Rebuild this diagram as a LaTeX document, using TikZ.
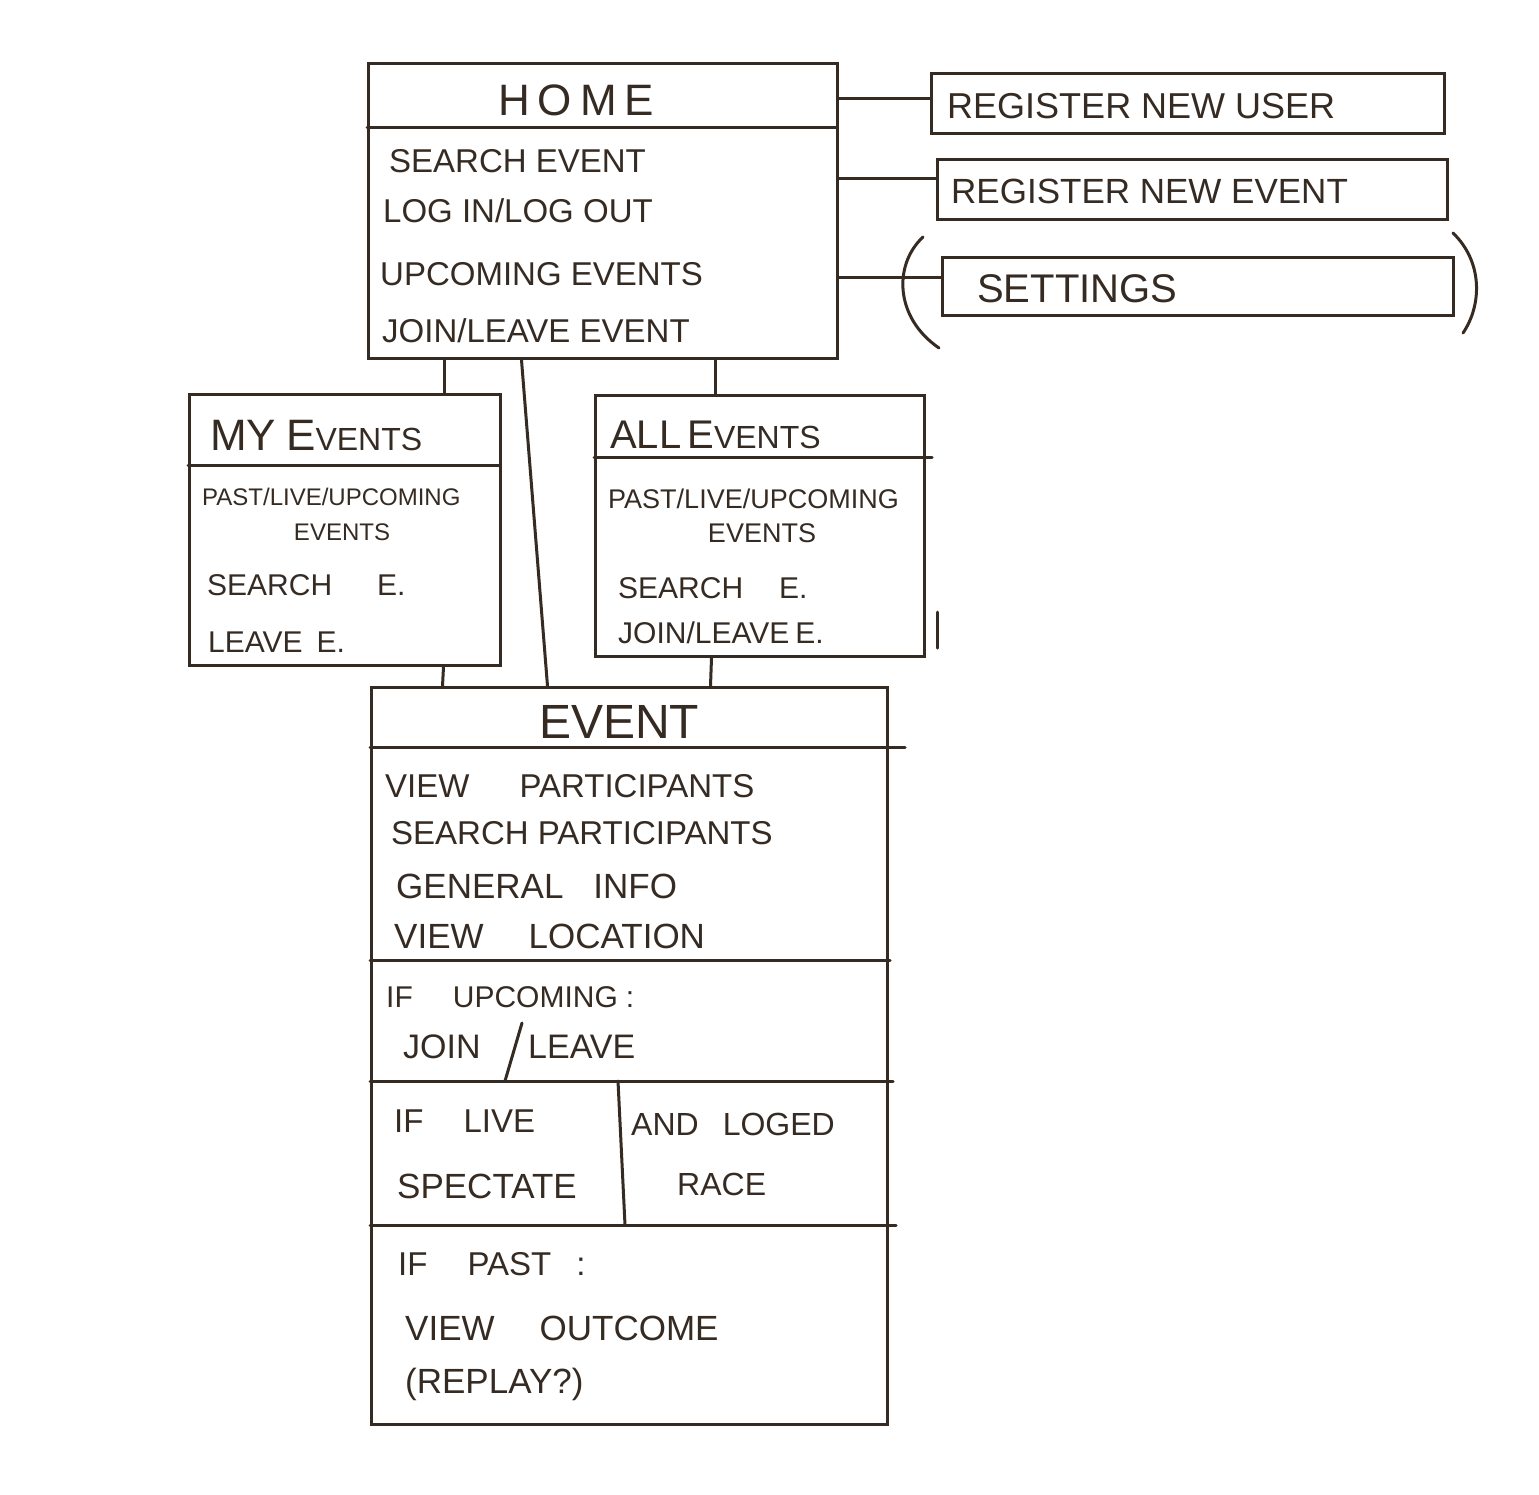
\documentclass[tikz,border=0pt]{standalone}
\usepackage{fontspec}
\setmainfont{Liberation Sans}
\definecolor{ink}{HTML}{352B23}
\newcommand{\fs}[1]{\fontsize{#1}{#1}\selectfont}
\begin{document}
\begin{tikzpicture}[x=1pt,y=-1pt,
  box/.style={draw=ink, line width=3pt, inner sep=0pt, anchor=north west, rectangle},
  ln/.style={draw=ink, line width=3pt, line cap=round},
  txt/.style={anchor=base west, inner sep=0pt, text=ink, font=\fs{33}},
  ctxt/.style={anchor=base, inner sep=0pt, text=ink}]
\fill[white] (0,0) rectangle (1539,1494);
\useasboundingbox (0,0) rectangle (1539,1494);

% boxes
\node[box, minimum width=469pt, minimum height=295pt] (home) at (367,62) {};
\node[box, minimum width=513pt, minimum height=60pt] (reguser) at (930,72) {};
\node[box, minimum width=510pt, minimum height=60pt] (regevent) at (936,158) {};
\node[box, minimum width=511pt, minimum height=58pt] (settings) at (941,256) {};
\node[box, minimum width=311pt, minimum height=271pt] (my) at (188,393) {};
\node[box, minimum width=329pt, minimum height=261pt] (all) at (594,394) {};
\node[box, minimum width=516pt, minimum height=737pt] (event) at (370,686) {};

% internal division lines
\draw[ln] (367,127) -- (836,127);
\draw[ln] (188,465) -- (499,465);
\draw[ln] (594,457) -- (932,457);
\draw[ln] (937,612) -- (937,648);
\draw[ln] (370,747) -- (905,747);
\draw[ln] (370,960) -- (890,960);
\draw[ln] (370,1081) -- (893,1081);
\draw[ln] (370,1225) -- (896,1225);
\draw[ln] (522,1023) -- (505,1081);
\draw[ln] (618,1081) -- (625,1225);

% parentheses around settings
\draw[ln] (923,237) .. controls (893,265) and (895,318) .. (939,348);
\draw[ln] (1453,233) .. controls (1483,262) and (1482,305) .. (1463,333);

% connectors
\coordinate (c1) at ([yshift=5pt]reguser.west);
\coordinate (c2) at ([yshift=11pt]regevent.west);
\coordinate (c3) at ([yshift=9pt]settings.west);
\draw[ln] (c1 -| home.east) -- (c1);
\draw[ln] (c2 -| home.east) -- (c2);
\draw[ln] (c3 -| home.east) -- (c3);
\draw[ln] ([xshift=-158.5pt]home.south) -- ([xshift=99.5pt]my.north);
\draw[ln] ([xshift=-81.5pt]home.south) -- ([xshift=-82pt]event.north);
\draw[ln] ([xshift=112.5pt]home.south) -- ([xshift=-44.5pt]all.north);
\draw[ln] ([xshift=98.5pt]my.south) -- ([xshift=-187pt]event.north);
\draw[ln] ([xshift=-48.5pt]all.south) -- ([xshift=81pt]event.north);

% HOME texts
\node[txt, font=\fs{44}] (hometitle) at (498,115) {H\hspace{8pt}O\hspace{8pt}M\hspace{8pt}E};
\node[txt] (h1) at (389,172) {SEARCH EVENT};
\node[txt] (h2) at (383,222) {LOG IN/LOG OUT};
\node[txt] (h3) at (380,285) {UPCOMING EVENTS};
\node[txt] (h4) at (382,342) {JOIN/LEAVE EVENT};

% right boxes texts
\node[txt, font=\fs{36}] (r1) at (947,118) {REGISTER NEW USER};
\node[txt, font=\fs{35}] (r2) at (951,203) {REGISTER NEW EVENT};
\node[txt, font=\fs{40}] (r3) at (977,302) {SETTINGS};

% MY EVENTS texts
\node[txt] (mytitle) at (210,450) {{\fs{44}MY\hspace{10pt}E}{\fs{32}VENTS}};
\node[txt, font=\fs{24}] (m1) at (202,505) {PAST/LIVE/UPCOMING};
\node[ctxt, font=\fs{24}] (m2) at (342,540) {EVENTS};
\node[txt, font=\fs{30}] (m3) at (207,595) {SEARCH\hspace{45pt}E.};
\node[txt, font=\fs{30}] (m4) at (208,652) {LEAVE\hspace{14pt}E.};

% ALL EVENTS texts
\node[txt] (alltitle) at (610,448) {{\fs{40}ALL\hspace{6pt}E}{\fs{32}VENTS}};
\node[txt, font=\fs{27}] (a1) at (608,508) {PAST/LIVE/UPCOMING};
\node[ctxt, font=\fs{27}] (a2) at (762,542) {EVENTS};
\node[txt, font=\fs{30}] (a3) at (618,598) {SEARCH\hspace{36pt}E.};
\node[txt, font=\fs{30}] (a4) at (618,643) {JOIN/LEAVE\hspace{6pt}E.};

% EVENT texts
\node[txt, font=\fs{48}] (eventtitle) at (539,738) {EVENT};
\node[txt] (e1) at (385,797) {VIEW\hspace{50pt}PARTICIPANTS};
\node[txt] (e2) at (391,844) {SEARCH PARTICIPANTS};
\node[txt, font=\fs{35}] (e3) at (396,898) {GENERAL\hspace{30pt}INFO};
\node[txt, font=\fs{35}] (e4) at (394,948) {VIEW\hspace{45pt}LOCATION};
\node[txt, font=\fs{30}] (e5) at (386,1007) {IF\hspace{40pt}UPCOMING\hspace{8pt}:};
\node[txt, font=\fs{34}] (e6) at (403,1058) {JOIN};
\node[txt, font=\fs{34}] (e7) at (528,1058) {LEAVE};
\node[txt] (e8) at (394,1132) {IF\hspace{40pt}LIVE};
\node[txt, font=\fs{35}] (e9) at (397,1198) {SPECTATE};
\node[txt, font=\fs{32}] (e10) at (631,1135) {AND\hspace{24pt}LOGED};
\node[txt, font=\fs{32}] (e11) at (677,1195) {RACE};
\node[txt] (e12) at (398,1275) {IF\hspace{40pt}PAST\hspace{25pt}:};
\node[txt, font=\fs{35}] (e13) at (405,1340) {VIEW\hspace{45pt}OUTCOME};
\node[txt, font=\fs{35}] (e14) at (405,1393) {(REPLAY?)};
\end{tikzpicture}
\end{document}
